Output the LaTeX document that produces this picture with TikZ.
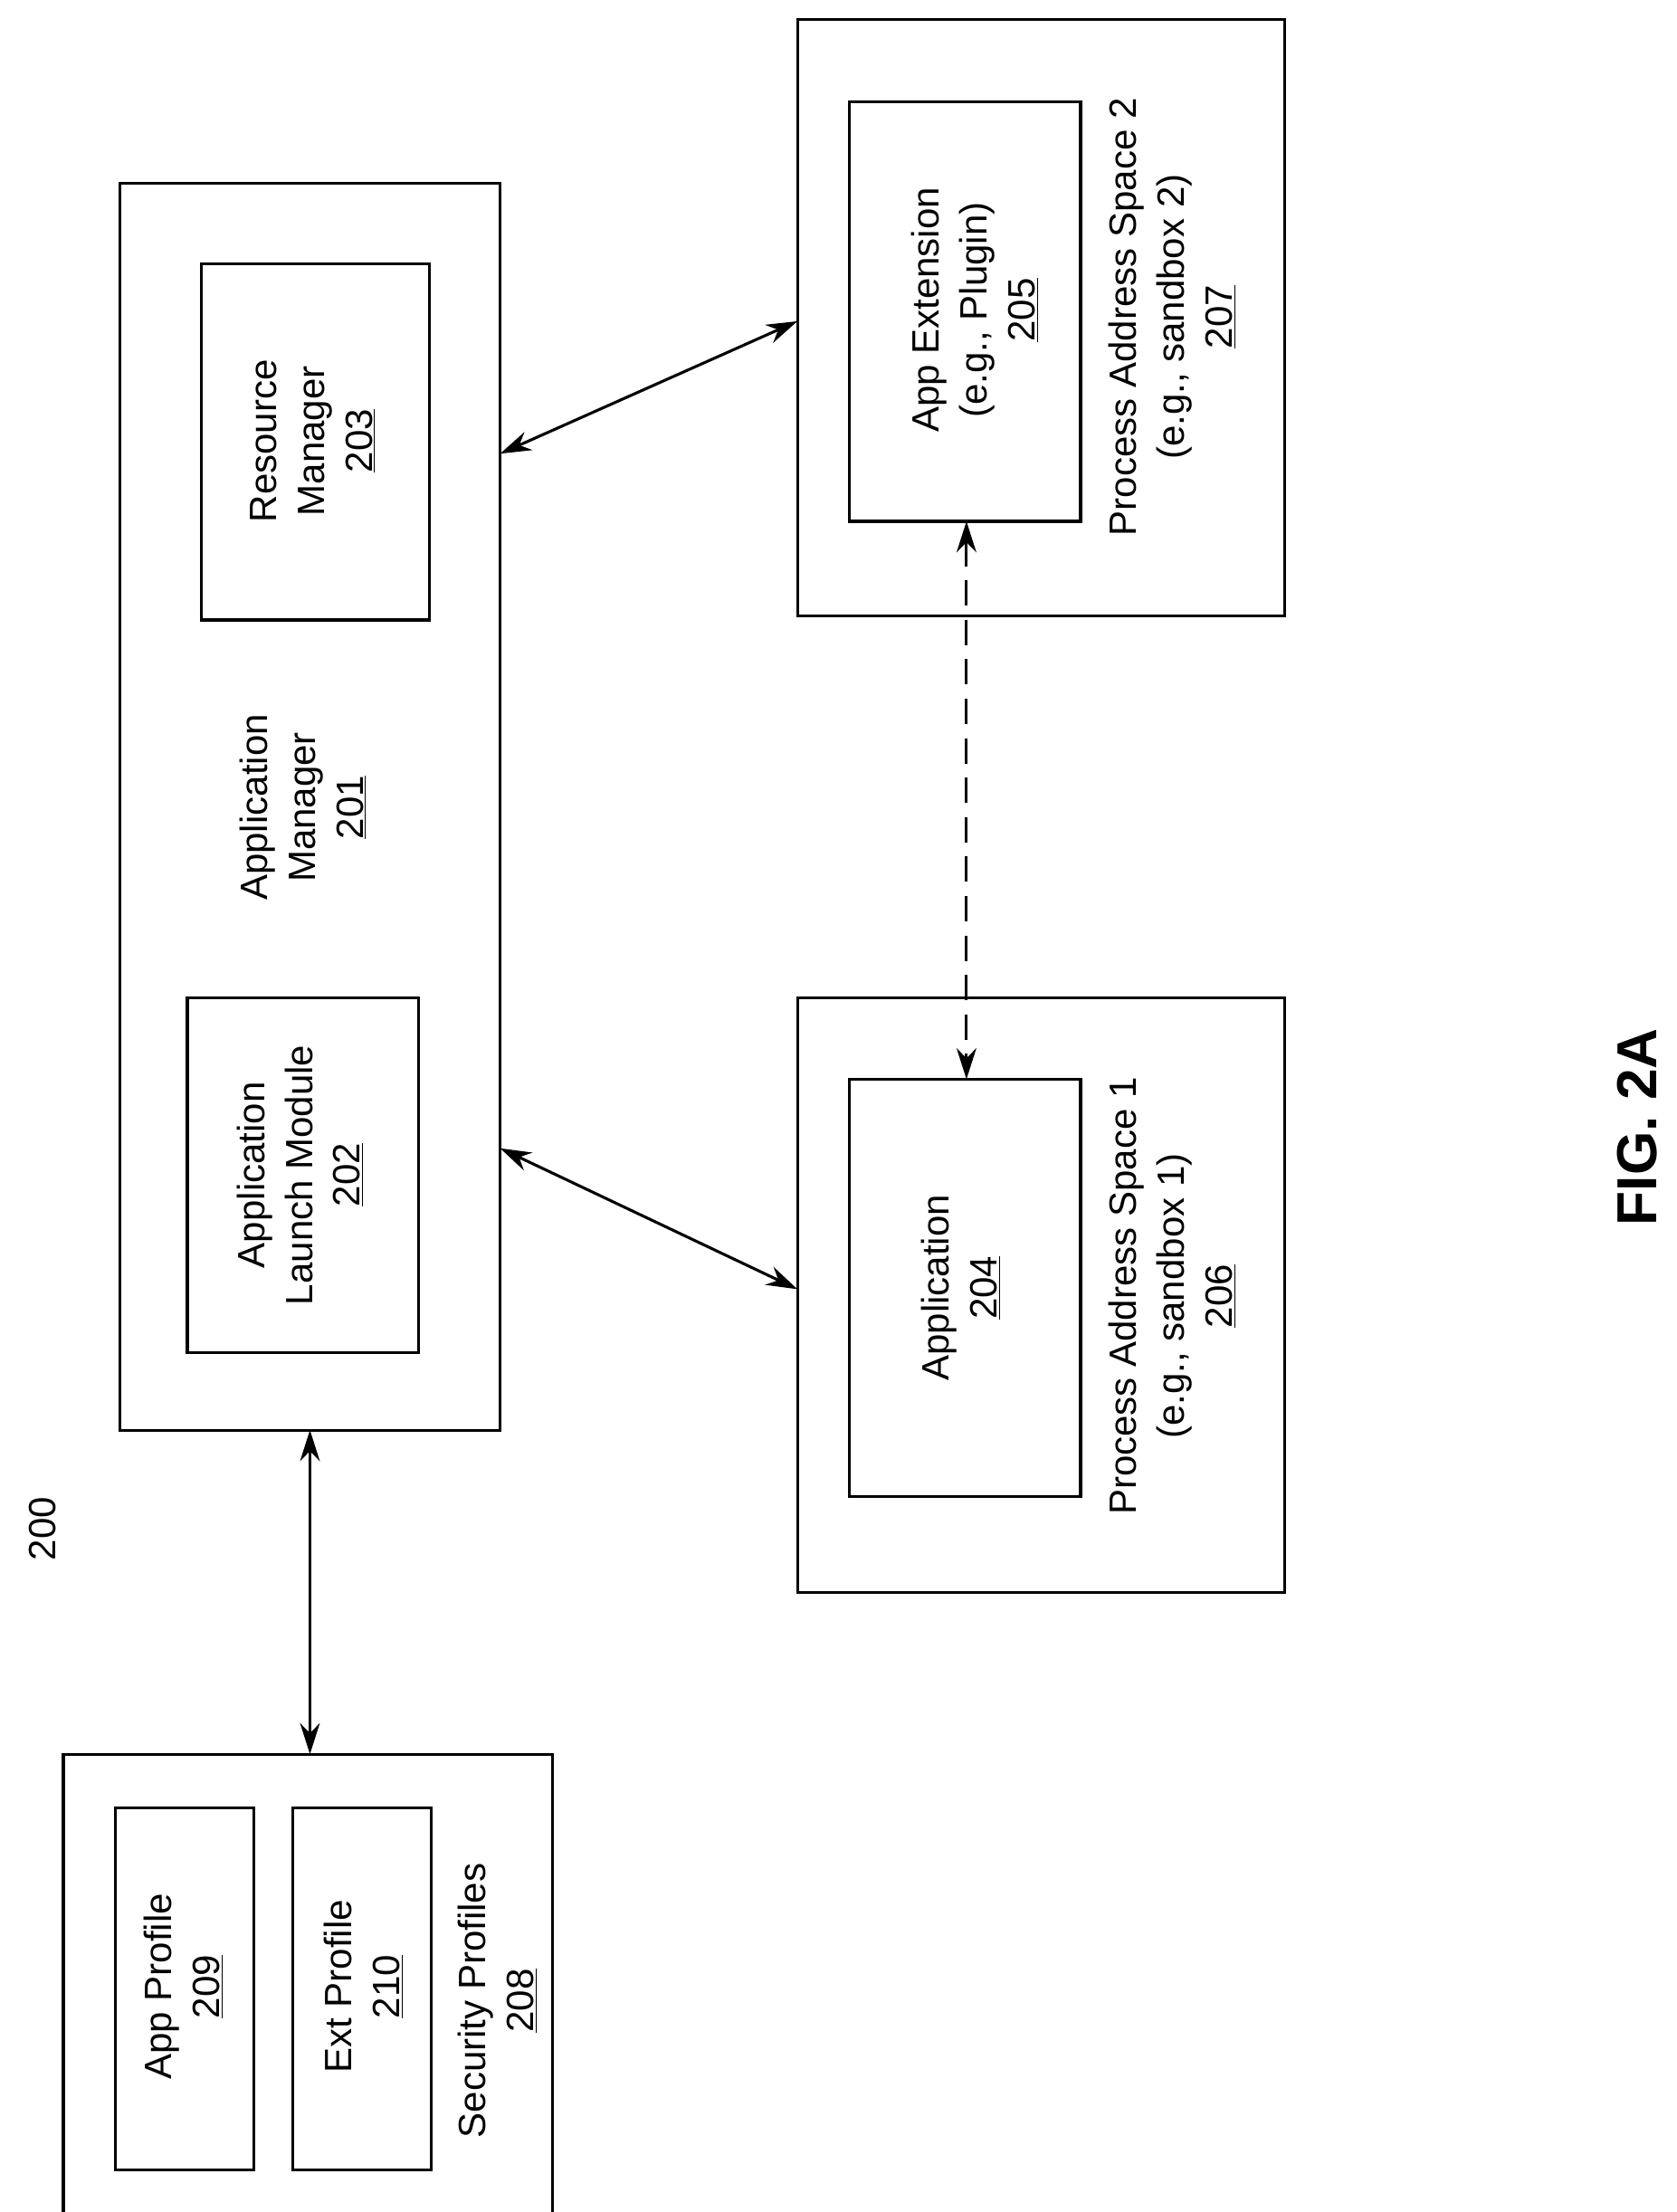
\documentclass[tikz,border=0pt]{standalone}
\usepackage{fontspec}
\setmainfont{Liberation Sans}
\usetikzlibrary{arrows.meta}
\begin{document}
\begin{tikzpicture}[x=1pt,y=-1pt,
 box/.style={draw,line width=2pt},
 lbl/.style={rotate=90,align=center,font=\fontsize{27}{34}\selectfont},
 arr/.style={line width=2pt,{Stealth[length=22pt,width=14pt]}-{Stealth[length=22pt,width=14pt]}}]
\useasboundingbox (0,0) rectangle (1190,1570);
\draw[box] (85,130) rectangle (355,1015);
\draw[box] (143,187) rectangle (305,440);
\draw[box] (133,708) rectangle (297,960);
\draw[box] (566,14) rectangle (912,437);
\draw[box] (603,72) rectangle (767,370);
\draw[box] (566,708) rectangle (912,1130);
\draw[box] (603,766) rectangle (767,1062);
\draw[box] (45,1245) rectangle (392,1580);
\draw[box] (82,1283) rectangle (180,1540);
\draw[box] (208,1283) rectangle (306,1540);
\node[lbl] (am) at (215,573) {Application\\Manager\\\underline{201}};
\node[lbl] (rm) at (222,313) {Resource\\Manager\\\underline{203}};
\node[lbl] (lm) at (213,834) {Application\\Launch Module\\\underline{202}};
\node[lbl] (ext) at (692,220) {App Extension\\(e.g., Plugin)\\\underline{205}};
\node[lbl] (pas2) at (832,225) {Process Address Space 2\\(e.g., sandbox 2)\\\underline{207}};
\node[lbl] (app) at (682,914) {Application\\\underline{204}};
\node[lbl] (pas1) at (832,920) {Process Address Space 1\\(e.g., sandbox 1)\\\underline{206}};
\node[lbl] (sp) at (353,1420) {Security Profiles\\\underline{208}};
\node[lbl] (ap) at (130,1410) {App Profile\\\underline{209}};
\node[lbl] (ep) at (258,1410) {Ext Profile\\\underline{210}};
\node[lbl] (n200) at (30,1085) {200};
\node[rotate=90,font=\fontsize{40}{48}\selectfont\bfseries] (fig) at (1162,800) {FIG. 2A};
\coordinate (a1) at (355,322); \coordinate (b1) at (566,228);
\coordinate (a2) at (355,815); \coordinate (b2) at (566,915);
\coordinate (a3) at (220,1015); \coordinate (b3) at (220,1245);
\coordinate (a4) at (686,370); \coordinate (b4) at (686,766);
\draw[arr] (a1) -- (b1);
\draw[arr] (a2) -- (b2);
\draw[arr] (a3) -- (b3);
\draw[arr,dash pattern=on 18pt off 10pt] (a4) -- (b4);
\end{tikzpicture}
\end{document}
